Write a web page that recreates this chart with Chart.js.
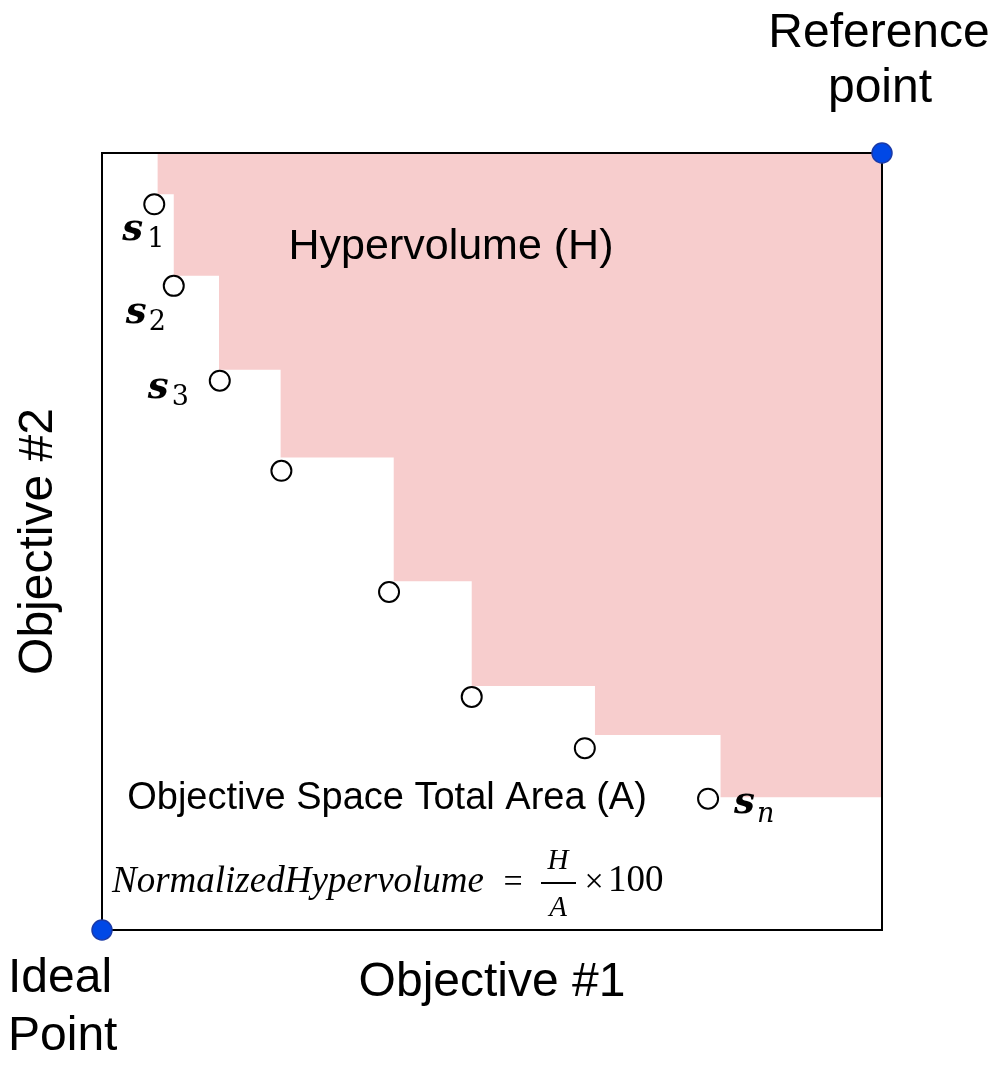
<!DOCTYPE html>
<html>
<head>
<meta charset="utf-8">
<script src="https://cdn.jsdelivr.net/npm/chart.js@4.4.0/dist/chart.umd.min.js"></script>
<style>
  html, body { margin: 0; padding: 0; background: #fff; }
</style>
</head>
<body>
<canvas id="grafica" width="996" height="1065"></canvas>
<script>
// soluciones del frente (objetivo 1, objetivo 2)
const solX = [6.7, 9.2, 15.1, 23.0, 36.8, 47.4, 61.9, 77.7];
const solY = [93.4, 82.9, 70.7, 59.1, 43.5, 30.0, 23.4, 16.9];

// escalones del area de hipervolumen (x de cada escalon, nivel y de cada escalon)
const escalonX = [7.1, 9.2, 15.0, 22.9, 37.4, 47.4, 63.2, 79.3];
const escalonY = [94.7, 84.2, 72.1, 60.8, 44.9, 31.4, 25.1, 17.1];

// punto ideal y punto de referencia
const extremosX = [0, 100];
const extremosY = [0, 100];

// subindices de las soluciones etiquetadas
const subindices = ['1', '2', '3', 'n'];
const solEtiquetadas = [0, 1, 2, 7];

const rosa = '#f7cdcd';
const azul = '#0048e6';
const sans = "'Liberation Sans', Arial, sans-serif";

// poligono escalonado
const puntosArea = [];
escalonX.forEach((x, i) => {
    puntosArea.push({ x: x, y: i === 0 ? extremosY[1] : escalonY[i - 1] });
    puntosArea.push({ x: x, y: escalonY[i] });
});
puntosArea.push({ x: extremosX[1], y: escalonY[escalonY.length - 1] });

const textos = {
    id: 'textos',
    afterDatasetsDraw(chart) {
        const ctx = chart.ctx;
        const sx = chart.scales.x;
        const sy = chart.scales.y;
        ctx.save();
        ctx.fillStyle = '#000';
        ctx.textBaseline = 'alphabetic';

        // textos sueltos
        ctx.textAlign = 'center';
        ctx.font = '43px ' + sans;
        ctx.fillText('Hypervolume (H)', 451, 259);
        ctx.font = '38px ' + sans;
        ctx.fillText('Objective Space Total Area (A)', 387, 809);
        ctx.font = '48px ' + sans;
        ctx.fillText('Reference', 879, 47);
        ctx.fillText('point', 880, 102);
        ctx.textAlign = 'left';
        ctx.fillText('Ideal', 8, 992);
        ctx.fillText('Point', 8, 1050);

        // etiquetas s_i
        const offs = [[-32, 36, -7, 43], [-48, 37, -25, 44], [-72, 17, -48, 24], [26, 14, 49, 23]];
        solEtiquetadas.forEach((idx, k) => {
            const px = sx.getPixelForValue(solX[idx]);
            const py = sy.getPixelForValue(solY[idx]);
            const o = offs[k];
            ctx.font = "italic bold 37px 'DejaVu Serif', serif";
            ctx.fillText('s', px + o[0], py + o[1]);
            ctx.font = (subindices[k] === 'n' ? 'italic ' : '') + "27px 'DejaVu Serif', serif";
            ctx.fillText(subindices[k], px + o[2], py + o[3]);
        });

        // formula
        const serif = "'Liberation Serif', 'Times New Roman', serif";
        ctx.font = 'italic 37px ' + serif;
        ctx.fillText('NormalizedHypervolume', 112, 892);
        ctx.textAlign = 'center';
        ctx.font = '34px ' + serif;
        ctx.fillText('=', 513, 892);
        ctx.fillText('\u00d7', 594, 892);
        ctx.textAlign = 'left';
        ctx.font = '37px ' + serif;
        ctx.fillText('100', 608, 891);
        ctx.textAlign = 'center';
        ctx.font = 'italic 29px ' + serif;
        ctx.fillText('H', 558, 869);
        ctx.fillText('A', 558, 916);
        ctx.fillRect(541, 882, 35, 2);
        ctx.restore();
    }
};

function ejeBorde(pos) {
    return {
        type: 'linear',
        position: pos,
        min: 0,
        max: 100,
        ticks: { display: false },
        grid: { display: false, drawTicks: false },
        border: { display: true, color: '#000', width: 2 },
    };
}

const ejeX = ejeBorde('bottom');
ejeX.title = {
    display: true,
    text: 'Objective #1',
    color: '#000',
    font: { family: sans, size: 48, lineHeight: 1 },
    padding: { top: 29, bottom: 0 },
};
const ejeY = ejeBorde('left');
ejeY.title = {
    display: true,
    text: 'Objective #2',
    color: '#000',
    font: { family: sans, size: 48, lineHeight: 1 },
    padding: { top: 0, bottom: 39 },
};
const ejeX2 = ejeBorde('top');
ejeX2.axis = 'x';
const ejeY2 = ejeBorde('right');
ejeY2.axis = 'y';

new Chart(document.getElementById('grafica').getContext('2d'), {
    type: 'scatter',
    data: {
        datasets: [
            {
                label: 'Extremos',
                data: extremosX.map((x, i) => ({ x: x, y: extremosY[i] })),
                pointRadius: 10,
                pointBackgroundColor: azul,
                pointBorderColor: '#1a3aa8',
                pointBorderWidth: 1.5,
                clip: false,
            },
            {
                label: 'Soluciones',
                data: solX.map((x, i) => ({ x: x, y: solY[i] })),
                pointRadius: 10,
                pointBackgroundColor: '#fff',
                pointBorderColor: '#000',
                pointBorderWidth: 2,
                clip: false,
            },
            {
                type: 'line',
                label: 'Hypervolume',
                data: puntosArea,
                borderColor: 'transparent',
                borderWidth: 0,
                pointRadius: 0,
                backgroundColor: rosa,
                fill: 'end',
                tension: 0,
            },
        ],
    },
    options: {
        responsive: false,
        animation: false,
        devicePixelRatio: 1,
        layout: { padding: { left: 15, right: 114, top: 153, bottom: 58 } },
        scales: { x: ejeX, y: ejeY, x2: ejeX2, y2: ejeY2 },
        plugins: {
            legend: { display: false },
            tooltip: { enabled: false },
            filler: { drawTime: 'beforeDraw' },
        },
    },
    plugins: [textos],
});
</script>
</body>
</html>
